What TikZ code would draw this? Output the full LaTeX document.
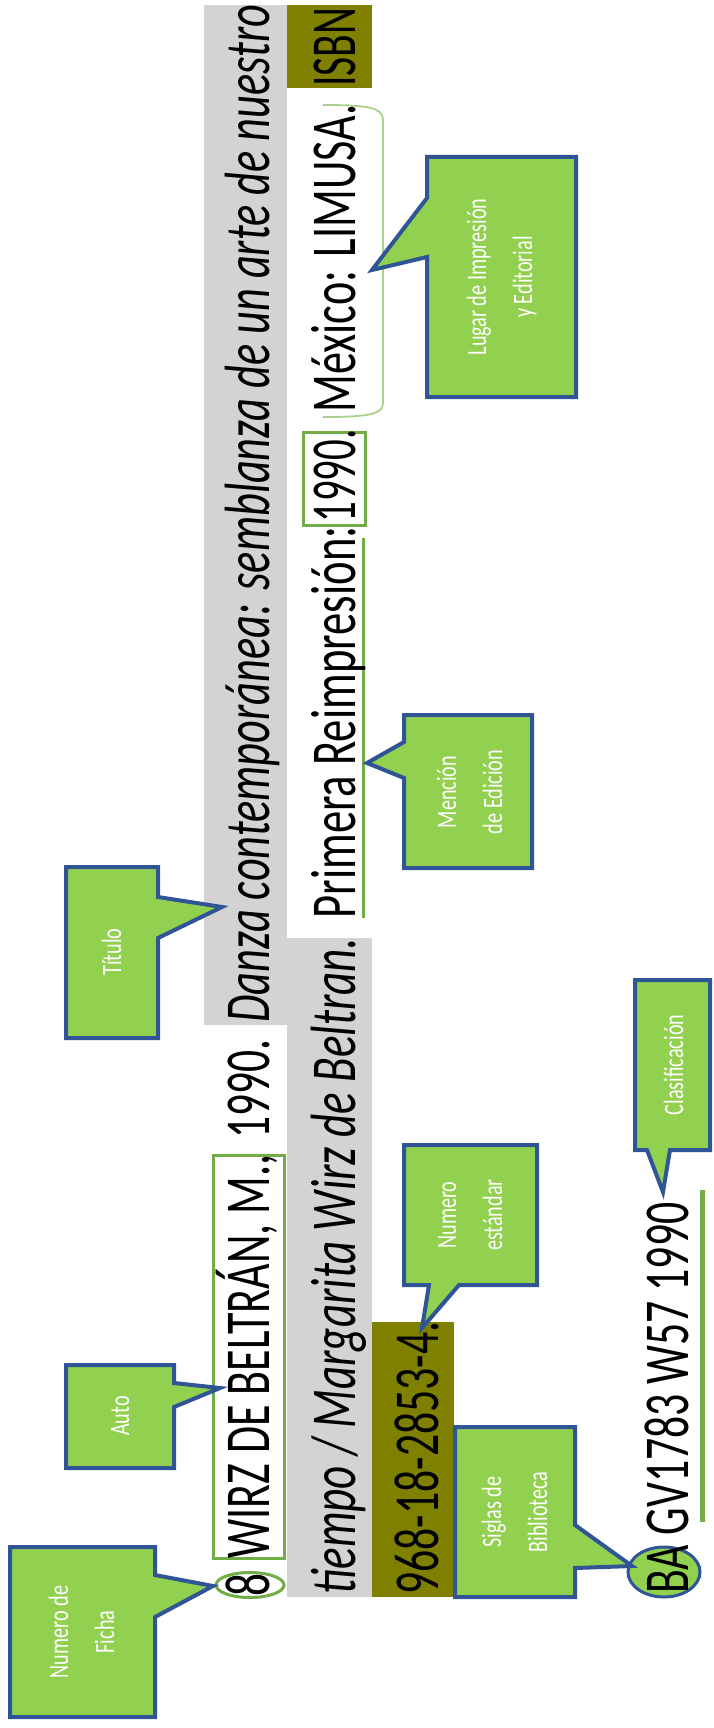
\documentclass[tikz,border=0pt]{standalone}
\usepackage{fontspec}
\setmainfont{Carlito}
\usepackage{graphicx}
\definecolor{cgreen}{HTML}{92D050}
\definecolor{cblue}{HTML}{2F5597}
\definecolor{ogreen}{HTML}{70AD47}
\definecolor{lgreen}{HTML}{A9D18E}
\definecolor{bggray}{HTML}{D3D3D3}
\definecolor{olivebg}{HTML}{808000}
\newcommand{\seg}[2]{\resizebox{#1}{\height}{#2}}
\newcommand{\ctext}[1]{\scalebox{0.72}[1]{\fontsize{14pt}{23pt}\selectfont\begin{tabular}{@{}c@{}}#1\end{tabular}}}
\begin{document}
\begin{tikzpicture}[x=0.5pt,y=-0.5pt,
  mtext/.style={rotate=90, anchor=base west, inner sep=0pt, font=\fontsize{32pt}{38pt}\selectfont},
  callout/.style={draw=cblue, fill=cgreen, line width=2pt, line join=miter},
  calltext/.style={rotate=90, text=white, inner sep=0pt, align=center},
  gmark/.style={draw=ogreen, line width=1.5pt}]
\useasboundingbox (0,0) rectangle (713,1728);
% backgrounds
\fill[bggray] (204,5) rectangle (287,1025);
\fill[bggray] (287,938) rectangle (372,1597);
\fill[olivebg] (287,5) rectangle (372,88);
\fill[olivebg] (372,1322) rectangle (454,1597);
% green marks
\draw[gmark] (250,1585) ellipse [x radius=34, y radius=12.5];
\draw[gmark] (213,1155) rectangle (284,1558);
\draw[gmark] (303,432) rectangle (365,525);
\draw[draw=ogreen, line width=1.5pt] (363,538) -- (363,918);
\draw[draw=ogreen, line width=2.5pt] (702,1190) -- (702,1522);
\draw[draw=lgreen, line width=0.9pt] (323,105) .. controls (370,105) and (383,108) .. (383,120) -- (383,403) .. controls (383,414) and (370,417) .. (323,417);
% BA ellipse
\draw[draw=cblue, fill=cgreen, line width=1.5pt] (664,1572) ellipse [x radius=36, y radius=25];
% callouts
\draw[callout] (10,1547) -- (155,1547) -- (155,1575) -- (213,1586) -- (155,1617) -- (155,1717) -- (10,1717) -- cycle;
\draw[callout] (66,1365) -- (174,1365) -- (174,1383) -- (220,1388) -- (174,1407) -- (174,1468) -- (66,1468) -- cycle;
\draw[callout] (66,867) -- (158,867) -- (158,897) -- (222,907) -- (158,938) -- (158,1038) -- (66,1038) -- cycle;
\draw[callout] (455,1427) -- (575,1427) -- (575,1525) -- (632,1566) -- (575,1568) -- (575,1597) -- (455,1597) -- cycle;
\draw[callout] (404,1145) -- (537,1145) -- (537,1285) -- (459,1285) -- (422,1328) -- (429,1285) -- (404,1285) -- cycle;
\draw[callout] (635,980) -- (710,980) -- (710,1150) -- (670,1150) -- (663,1192) -- (647,1150) -- (635,1150) -- cycle;
\draw[callout] (404,715) -- (532,715) -- (532,868) -- (404,868) -- (404,778) -- (367,763) -- (404,742) -- cycle;
\draw[callout] (427,157) -- (576,157) -- (576,397) -- (427,397) -- (427,257) -- (372,270) -- (427,198) -- cycle;
% callout texts
\node[calltext] (tficha) at (82,1632) {\ctext{Numero de\\Ficha}};
\node[calltext] (tauto) at (120,1416) {\ctext{Auto}};
\node[calltext] (ttitulo) at (112,952) {\ctext{Título}};
\node[calltext] (tsiglas) at (515,1512) {\ctext{Siglas de\\Biblioteca}};
\node[calltext] (testandar) at (470,1215) {\ctext{Numero\\estándar}};
\node[calltext] (tclasif) at (674,1065) {\ctext{Clasificación}};
\node[calltext] (tmencion) at (470,792) {\ctext{Mención\\de Edición}};
\node[calltext] (tlugar) at (500,277) {\ctext{Lugar de Impresión\\y Editorial}};
% main text line 1
\node[mtext] (n8) at (269,1597) {\seg{11.5pt}{8}};
\node[mtext] (nauthor) at (269,1559) {\seg{202pt}{WIRZ DE BELTRÁN, M.,}};
\node[mtext] (nyear) at (269,1139) {\seg{49.5pt}{1990.}};
\node[mtext] (ntitle) at (269,1023) {\seg{509pt}{\itshape Danza contemporánea: semblanza de un arte de nuestro}};
% line 2
\node[mtext] (ntiempo) at (355,1595) {\seg{328.5pt}{\itshape tiempo / Margarita Wirz de Beltran.}};
\node[mtext] (nprimera) at (355,919) {\seg{196pt}{Primera Reimpresión:}};
\node[mtext] (nyear2) at (355,523) {\seg{46.5pt}{1990.}};
\node[mtext] (nmexico) at (355,413) {\seg{154pt}{México: LIMUSA.}};
\node[mtext] (nisbn) at (355,87) {\seg{39.5pt}{ISBN}};
% line 3
\node[mtext] (nnum) at (438,1595) {\seg{136.5pt}{968-18-2853-4.}};
% line 4
\node[mtext] (nclas) at (688,1594) {\seg{195.5pt}{BA GV1783 W57 1990}};
\end{tikzpicture}
\end{document}
